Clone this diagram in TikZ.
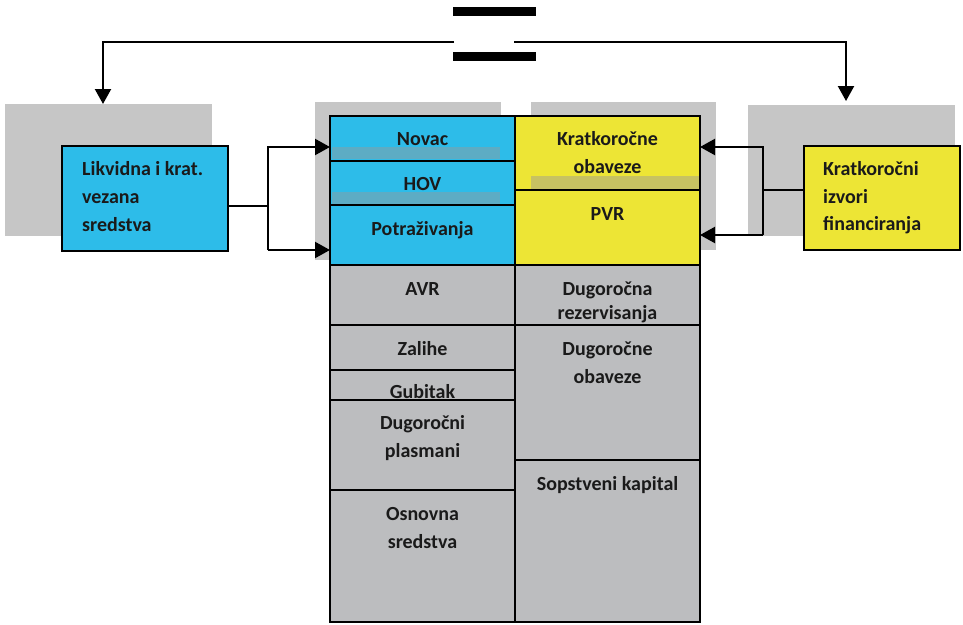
\documentclass[tikz,border=0pt]{standalone}
\usepackage{fontspec}
\setmainfont{Carlito}
\usetikzlibrary{arrows.meta}
\definecolor{cblue}{HTML}{2DBCE9}
\definecolor{cyel}{HTML}{EDE535}
\definecolor{cgray}{HTML}{BCBDBF}
\definecolor{cshad}{HTML}{C6C6C6}
\definecolor{ctext}{HTML}{1A1A1A}
\newcommand\mybox[7]{\node[#6, fill=#7, minimum width=#4pt-#2pt, minimum height=#5pt-#3pt] (#1) at (#2,#3) {};}
\begin{document}
\begin{tikzpicture}[x=1pt,y=-1pt,
  shad/.style={draw=none, anchor=north west, inner sep=0, outer sep=0},
  bx/.style={draw=black, line width=2.4pt, anchor=north west, inner sep=0, outer sep=0},
  bar/.style={draw=none, anchor=north west, inner sep=0, outer sep=0},
  stripe/.style={fill=black!40, fill opacity=0.45, draw=none},
  txt/.style={anchor=base, font=\bfseries\fontsize{20}{24}\selectfont, text=ctext, inner sep=0},
  txtl/.style={txt, anchor=base west},
  conn/.style={line width=2.2pt, line join=miter},
  arr/.style={conn, -{Triangle[length=15pt,width=16pt]}}]
\useasboundingbox (0,0) rectangle (963,624);
% shadow boxes
\mybox{sL}{5}{104}{212}{236}{shad}{cshad}
\mybox{sCa}{315}{102}{501}{260}{shad}{cshad}
\mybox{sCb}{531}{102}{716}{250}{shad}{cshad}
\mybox{sR}{748}{105}{955}{236}{shad}{cshad}
% main balance boxes
\mybox{novac}{330}{116}{515}{161}{bx}{cblue}
\mybox{hov}{330}{161}{515}{205}{bx}{cblue}
\mybox{potr}{330}{205}{515}{265}{bx}{cblue}
\mybox{krob}{515}{116}{700}{190}{bx}{cyel}
\mybox{pvr}{515}{190}{700}{265}{bx}{cyel}
\mybox{avr}{330}{265}{515}{325}{bx}{cgray}
\mybox{zal}{330}{325}{515}{370}{bx}{cgray}
\mybox{gub}{330}{370}{515}{400}{bx}{cgray}
\mybox{dpl}{330}{400}{515}{490}{bx}{cgray}
\mybox{osn}{330}{490}{515}{622}{bx}{cgray}
\mybox{drez}{515}{265}{700}{325}{bx}{cgray}
\mybox{dob}{515}{325}{700}{460}{bx}{cgray}
\mybox{kap}{515}{460}{700}{622}{bx}{cgray}
% side boxes
\mybox{likv}{62}{146}{228}{251}{bx}{cblue}
\mybox{kif}{804}{146}{960}{250}{bx}{cyel}
% translucent stripes
\fill[stripe] (331.5,147) rectangle (500,159);
\fill[stripe] (331.5,192) rectangle (500,203.5);
\fill[stripe] (531,176) rectangle (698.8,188.8);
% equals sign
\mybox{eqa}{453}{7}{536}{16}{bar}{black}
\mybox{eqb}{453}{52}{536}{61}{bar}{black}
% texts
\node[txt] (tNovac) at (422.5,145) {Novac};
\node[txt] (tHov) at (422.5,190) {HOV};
\node[txt] (tPotr) at (422.5,235) {Potraživanja};
\node[txt] (tKr1) at (607.5,145) {Kratkoročne};
\node[txt] (tKr2) at (607.5,173) {obaveze};
\node[txt] (tPvr) at (607.5,220) {PVR};
\node[txt] (tAvr) at (422.5,295) {AVR};
\node[txt] (tZal) at (422.5,355) {Zalihe};
\node[txt] (tGub) at (422.5,398) {Gubitak};
\node[txt] (tDp1) at (422.5,429) {Dugoročni};
\node[txt] (tDp2) at (422.5,457) {plasmani};
\node[txt] (tOs1) at (422.5,520) {Osnovna};
\node[txt] (tOs2) at (422.5,548) {sredstva};
\node[txt] (tDr1) at (607.5,295) {Dugoročna};
\node[txt] (tDr2) at (607.5,319) {rezervisanja};
\node[txt] (tDo1) at (607.5,355) {Dugoročne};
\node[txt] (tDo2) at (607.5,383) {obaveze};
\node[txt] (tKap) at (607.5,490) {Sopstveni kapital};
\node[txtl] (tL1) at (82,175) {Likvidna i krat.};
\node[txtl] (tL2) at (82,203) {vezana};
\node[txtl] (tL3) at (82,231) {sredstva};
\node[txtl] (tR1) at (823,175) {Kratkoročni};
\node[txtl] (tR2) at (823,203) {izvori};
\node[txtl] (tR3) at (823,230) {financiranja};
% left connector
\coordinate (jl) at (268,206);
\coordinate (la) at (268,147);
\coordinate (lb) at (268,250);
\draw[conn] (likv.east |- jl) -- (jl);
\draw[arr] (lb) -- (la) -- (la -| novac.west);
\draw[arr] (lb) -- (lb -| potr.west);
% right connector
\coordinate (rj) at (763,190);
\coordinate (ra) at (763,147);
\coordinate (rb) at (763,235);
\draw[conn] (kif.west |- rj) -- (rj);
\draw[arr] (rb) -- (ra) -- (ra -| krob.east);
\draw[arr] (rb) -- (rb -| pvr.east);
% top connector
\coordinate (tl) at (454,42);
\coordinate (tr) at (514,42);
\coordinate (tll) at (103,42);
\coordinate (trr) at (846,42);
\draw[arr] (tl) -- (tll) -- (sL.north -| tll);
\draw[arr] (tr) -- (trr) -- ([yshift=4pt]sR.north -| trr);
\end{tikzpicture}
\end{document}
